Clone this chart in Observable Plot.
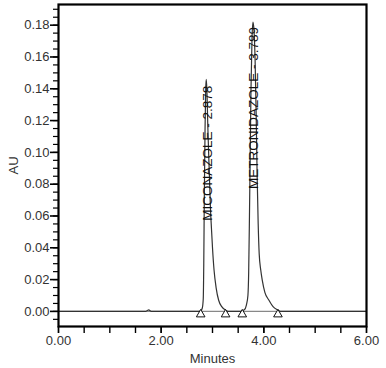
<!DOCTYPE html>
<html>
<head>
<meta charset="utf-8">
<script src="https://cdn.jsdelivr.net/npm/d3@7"></script>
<script src="https://cdn.jsdelivr.net/npm/@observablehq/plot@0.6"></script>
<style>
  html, body { margin: 0; padding: 0; background: #fff; }
  #chart svg { display: block; }
</style>
</head>
<body>
<div id="chart"></div>
<script>
// Chromatogram trace (minutes, AU)
const minutes = [0.00, 1.70, 1.73, 1.76, 1.79, 1.82, 2.74, 2.77, 2.80, 2.82, 2.83, 2.84, 2.855, 2.868, 2.878, 2.89, 2.91, 2.94, 2.96, 2.98, 3.00, 3.03, 3.07, 3.12, 3.18, 3.255, 3.30,
                 3.55, 3.58, 3.62, 3.66, 3.69, 3.705, 3.72, 3.735, 3.75, 3.77, 3.789, 3.81, 3.83, 3.85, 3.87, 3.89, 3.91, 3.94, 3.97, 4.02, 4.10, 4.18, 4.275, 4.32, 6.00];
const au =      [0.000, 0.000, 0.0006, 0.0009, 0.0003, 0.000, 0.000, 0.0003, 0.002, 0.008, 0.030, 0.070, 0.115, 0.140, 0.146, 0.140, 0.115, 0.085, 0.065, 0.052, 0.040, 0.026, 0.015, 0.007, 0.003, 0.0008, 0.000,
                 0.000, 0.0005, 0.001, 0.004, 0.010, 0.025, 0.060, 0.100, 0.140, 0.172, 0.182, 0.176, 0.158, 0.125, 0.085, 0.055, 0.036, 0.026, 0.0195, 0.012, 0.007, 0.003, 0.0008, 0.000, 0.000];

// Peak labels
const peakNames = ["MICONAZOLE - 2.878", "METRONIDAZOLE - 3.789"];
const peakTimes = [2.878, 3.789];
const labelBase = [0.057, 0.077];

// Integration start/end markers (minutes)
const markerTimes = [2.77, 3.255, 3.58, 4.275];

// Axis ticks
const xMajor = [0, 2, 4, 6];
const xMinor = [0, 0.5, 1, 1.5, 2, 2.5, 3, 3.5, 4, 4.5, 5, 5.5, 6];
const yMajor = [0, 0.02, 0.04, 0.06, 0.08, 0.10, 0.12, 0.14, 0.16, 0.18];
const yMinor = [-0.005, 0, 0.005, 0.01, 0.015, 0.02, 0.025, 0.03, 0.035, 0.04, 0.045, 0.05, 0.055, 0.06, 0.065, 0.07, 0.075, 0.08, 0.085, 0.09, 0.095, 0.10, 0.105, 0.11, 0.115, 0.12, 0.125, 0.13, 0.135, 0.14, 0.145, 0.15, 0.155, 0.16, 0.165, 0.17, 0.175, 0.18, 0.185, 0.19];

const trace = minutes.map((t, i) => ({t, v: au[i]}));
const labels = peakNames.map((name, i) => ({name, t: peakTimes[i], v: labelBase[i]}));
const markers = markerTimes.map(t => ({t, v: 0}));

const fmt = d3.format(".2f");
const font = "Liberation Sans, Arial, sans-serif";

const chart = Plot.plot({
  width: 386,
  height: 368,
  marginLeft: 58,
  marginRight: 20,
  marginTop: 4,
  marginBottom: 42,
  style: {fontFamily: font, background: "#fff"},
  x: {domain: [0, 6]},
  y: {domain: [-0.0095, 0.193]},
  marks: [
    Plot.ruleY([0], {stroke: "#888", strokeWidth: 1.2}),
    Plot.line(trace, {x: "t", y: "v", stroke: "#333", strokeWidth: 1.2, curve: "monotone-x"}),
    Plot.dot(markers, {x: "t", y: "v", symbol: "triangle", r: 3.2, stroke: "#111", fill: "white", strokeWidth: 1, dy: 3}),
    Plot.text(labels, {x: "t", y: "v", text: "name", rotate: -90, textAnchor: "start", lineAnchor: "middle", fontSize: 13.5, fill: "#111", dx: 1}),
    Plot.axisY(yMinor, {tickSize: 5, text: null, label: null, stroke: "#000", strokeWidth: 1.2}),
    Plot.axisY(yMajor, {tickSize: 8, tickPadding: 1, tickFormat: fmt, fontSize: 13, fill: "#333", stroke: "#000", strokeWidth: 1.6,
      label: "AU", labelAnchor: "center", labelArrow: "none", labelOffset: 50}),
    Plot.axisX(xMinor, {tickSize: 7, text: null, label: null, stroke: "#000", strokeWidth: 1.4}),
    Plot.axisX(xMajor, {tickSize: 7, tickPadding: 2, tickFormat: fmt, fontSize: 13, fill: "#333", stroke: "#000", strokeWidth: 1.4,
      label: "Minutes", labelAnchor: "center", labelArrow: "none", labelOffset: 36}),
    Plot.frame({stroke: "#000", strokeWidth: 2.2})
  ]
});
document.getElementById("chart").append(chart);
</script>
</body>
</html>
